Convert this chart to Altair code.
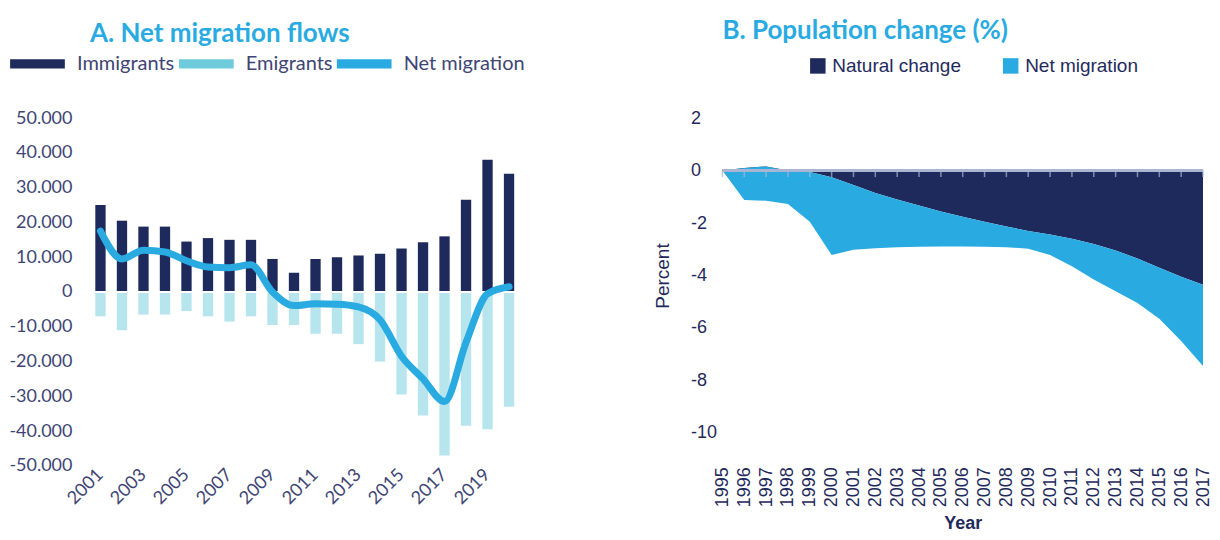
import altair as alt
import pandas as pd

# ---------- Panel A data ----------
years_a = list(range(2001, 2021))
immigrants = [25000, 20500, 18800, 18800, 14500, 15500, 15000, 15000, 9500, 5500,
              9500, 10000, 10500, 11000, 12500, 14300, 16000, 26500, 38000, 34000]
emigrants = [-7000, -11000, -6500, -6500, -5500, -7000, -8500, -7000, -9500, -9500,
             -12000, -12000, -15000, -20000, -29500, -35500, -47000, -38500, -39500, -33000]
net_migration = [17500, 9500, 12000, 11500, 9000, 7200, 7000, 7800, 0, -3900,
                 -3400, -3500, -4300, -8000, -18500, -25000, -31500, -14500, -500, 1500]
series_a = ["Immigrants", "Emigrants", "Net migration"]
colors_a = ["#1f2a5c", "#6dcbdb", "#29abe2"]
y_ticks_a = list(range(-50000, 50001, 10000))
x_labels_a = years_a[::2]

# ---------- Panel B data ----------
years_b = list(range(1995, 2018))
natural_change = [0, 0.1, 0.16, 0.0, -0.05, -0.25, -0.55, -0.85, -1.1, -1.33, -1.56, -1.76,
                  -1.95, -2.13, -2.3, -2.44, -2.6, -2.8, -3.05, -3.35, -3.7, -4.05, -4.35]
total_change = [0, -1.12, -1.15, -1.27, -1.95, -3.22, -3.02, -2.96, -2.92, -2.9, -2.89, -2.89,
                -2.9, -2.92, -2.98, -3.22, -3.65, -4.15, -4.6, -5.05, -5.65, -6.5, -7.45]
series_b = ["Natural change", "Net migration"]
colors_b = ["#1f2a5c", "#29abe2"]
y_ticks_b = [2, 0, -2, -4, -6, -8, -10]

NAVY_TXT = "#3e4574"
NAVY = "#1f2a5c"
BLUE = "#29abe2"
FONT_A = "Lato"
FONT_B = "Liberation Sans"
DOT_EXPR = "(datum.value < 0 ? '-' : '') + replace(format(abs(datum.value), ','), ',', '.')"

# ---------- Panel A ----------
bars_df = pd.DataFrame({
    "year": years_a * 2,
    "value": immigrants + emigrants,
    "series": ["Immigrants"] * len(years_a) + ["Emigrants"] * len(years_a),
})
line_df = pd.DataFrame({"year": years_a, "value": net_migration,
                        "series": ["Net migration"] * len(years_a)})

color_a = alt.Color(
    "series:N",
    scale=alt.Scale(domain=series_a, range=colors_a),
    legend=alt.Legend(
        title=None, orient="none", legendX=-80, legendY=-82, direction="horizontal",
        symbolType="M-1,-0.17H1V0.17H-1Z", symbolSize=3000, symbolStrokeWidth=0,
        labelFont=FONT_A, labelFontSize=20, labelColor=NAVY_TXT, labelOffset=12,
        columnPadding=4, symbolOpacity=1,
    ),
)

axis_x_a = alt.Axis(values=x_labels_a, labelAngle=315, labelAlign="right",
                    labelBaseline="middle", domain=False, ticks=False,
                    labelFont=FONT_A, labelFontSize=18, labelColor=NAVY_TXT,
                    labelPadding=6, labelOverlap=False)
axis_y_a = alt.Axis(values=y_ticks_a, domain=False, ticks=False, grid=False,
                    labelFont=FONT_A, labelFontSize=18, labelColor=NAVY_TXT,
                    labelPadding=18, labelOverlap=False, labelExpr=DOT_EXPR)
scale_y_a = alt.Scale(domain=[-50000, 50000], nice=False)
x_a = alt.X("year:O", title=None, scale=alt.Scale(paddingInner=0.52, paddingOuter=0.25),
            axis=axis_x_a)
y_a = alt.Y("value:Q", title=None, scale=scale_y_a, axis=axis_y_a)

bars = alt.Chart(bars_df).mark_bar().encode(
    x=x_a, y=y_a, color=color_a,
    opacity=alt.when(alt.datum.series == "Emigrants").then(alt.value(0.5)).otherwise(alt.value(1.0)),
)
zero_a = alt.Chart(line_df).mark_rule(color="white", strokeWidth=1.5).encode(
    y=alt.YDatum(0, title=None, scale=scale_y_a, axis=axis_y_a))
line = alt.Chart(line_df).mark_line(strokeWidth=7, interpolate="monotone", strokeCap="round",
                                     strokeJoin="round").encode(
    x=x_a, y=y_a, color=color_a)

left = alt.layer(bars, zero_a, line).properties(
    width=430, height=348,
    title=alt.TitleParams("A. Net migration flows", anchor="start", frame="group", font=FONT_A,
                          fontSize=26, fontWeight="bold", color=BLUE, offset=-11),
)

# ---------- Panel B ----------
nat_df = pd.DataFrame({"year": years_b, "upper": natural_change, "lower": [0] * len(years_b),
                       "series": ["Natural change"] * len(years_b)})
mig_df = pd.DataFrame({"year": years_b, "upper": natural_change, "lower": total_change,
                       "series": ["Net migration"] * len(years_b)})
ticks_df = pd.DataFrame({"year": years_b})

axis_x_b = alt.Axis(values=years_b, format="d", labelAngle=270, labelAlign="right",
                    labelBaseline="middle", domain=False, ticks=False, grid=False,
                    labelFont=FONT_B, labelFontSize=18, labelColor=NAVY,
                    labelPadding=34, labelOverlap=False, titleFont=FONT_B,
                    titleFontSize=18, titleFontWeight="bold", titleColor=NAVY,
                    titlePadding=8)
scale_x_b = alt.Scale(domain=[years_b[0], years_b[-1]], nice=False, zero=False)
axis_y_b = alt.Axis(values=y_ticks_b, domain=False, ticks=False, grid=False,
                    labelAlign="left", labelPadding=32, labelOverlap=False,
                    labelExpr="(datum.value < 0 ? '-' : '') + format(abs(datum.value), 'd')",
                    labelFont=FONT_B, labelFontSize=18, labelColor=NAVY,
                    titleFont=FONT_B, titleFontSize=19, titleFontWeight="normal",
                    titleColor=NAVY, titlePadding=18)
scale_y_b = alt.Scale(domain=[-10, 2], nice=False)
x_b = alt.X("year:Q", title="Year", scale=scale_x_b, axis=axis_x_b)
y_b = alt.Y("upper:Q", title="Percent", scale=scale_y_b, axis=axis_y_b)
color_b = alt.Color("series:N", scale=alt.Scale(domain=series_b, range=colors_b),
                    legend=alt.Legend(title=None, orient="none", legendX=86, legendY=-62,
                                      direction="horizontal", symbolType="square",
                                      symbolSize=240, symbolStrokeWidth=0,
                                      labelFont=FONT_B, labelFontSize=19, labelColor=NAVY,
                                      labelOffset=5, columnPadding=40))

nat_area = alt.Chart(nat_df).mark_area(interpolate="linear").encode(
    x=x_b, y=y_b, y2="lower:Q", color=color_b)
mig_area = alt.Chart(mig_df).mark_area(interpolate="linear").encode(
    x=x_b, y=y_b, y2="lower:Q", color=color_b)
zero_b = alt.Chart(ticks_df).mark_rule(color="#a9b6d3", strokeWidth=2).encode(
    y=alt.YDatum(0, title="Percent", scale=scale_y_b, axis=axis_y_b))
ticks_b = alt.Chart(ticks_df).mark_tick(orient="vertical", size=7, thickness=1.5,
                                        color="#a9b6d3", yOffset=3).encode(
    x=x_b, y=alt.YDatum(0, title="Percent", scale=scale_y_b, axis=axis_y_b))

right = alt.layer(nat_area, mig_area, zero_b, ticks_b).properties(
    width=481, height=315,
    title=alt.TitleParams("B. Population change (%)", anchor="start", frame="group", font=FONT_A,
                          fontSize=26, fontWeight="bold", color=BLUE, offset=12),
)

chart = alt.hconcat(left, right, spacing=128).resolve_scale(color="independent").resolve_legend(
    color="independent"
).properties(
    padding={"left": 0, "top": 10, "right": 0, "bottom": 0}
).configure_view(stroke=None).configure_axis(labelOverlap=False)

chart.save("out.html", embed_options={"renderer": "svg", "actions": False})
